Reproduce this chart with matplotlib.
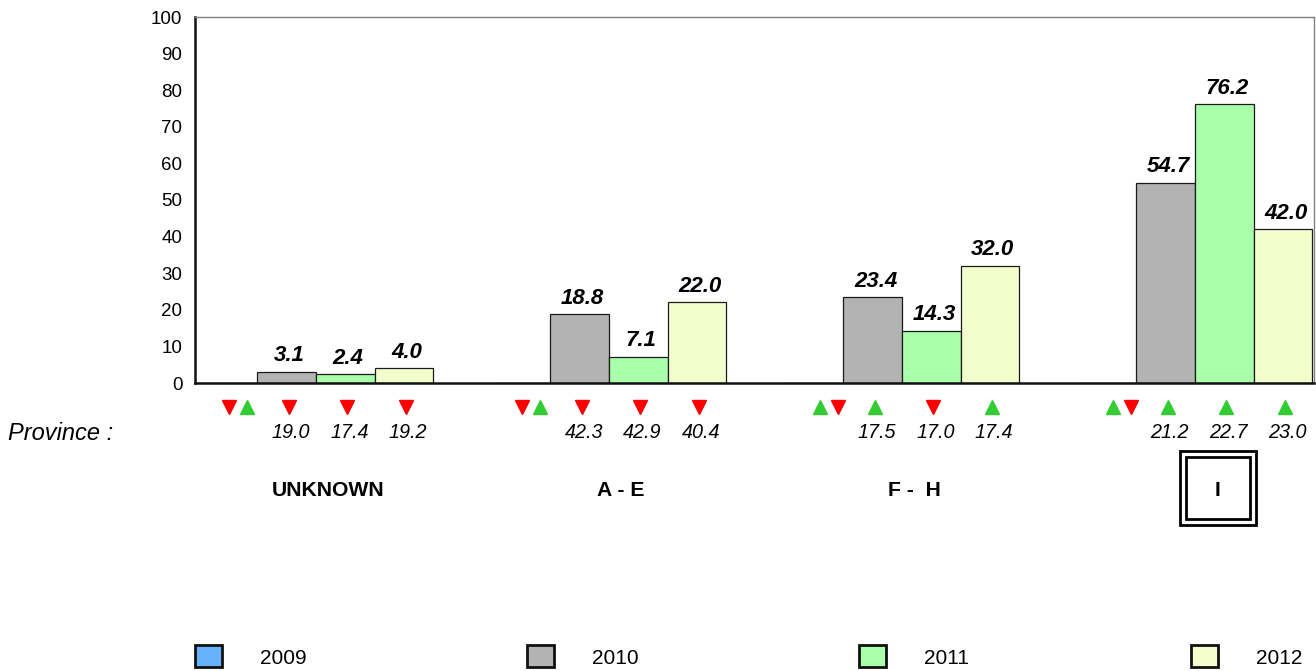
import matplotlib
matplotlib.use("Agg")
import matplotlib.pyplot as plt
from matplotlib.patches import Rectangle
from matplotlib.transforms import blended_transform_factory
import numpy as np

plt.rcParams['font.family'] = ['Liberation Sans', 'DejaVu Sans']

# ---- data ----
groups = ["UNKNOWN", "A - E", "F -  H", "I"]
years = ["2009", "2010", "2011", "2012"]
v2009 = [0.0, 0.0, 0.0, 0.0]
v2010 = [3.1, 18.8, 23.4, 54.7]
v2011 = [2.4, 7.1, 14.3, 76.2]
v2012 = [4.0, 22.0, 32.0, 42.0]

# change indicators (direction: +1 up / -1 down) and values shown under each bar
pair_dirs = [(-1, 1), (-1, 1), (1, -1), (1, -1)]
dir2010 = [-1, -1, 1, 1]
dir2011 = [-1, -1, -1, 1]
dir2012 = [-1, -1, 1, 1]
chg2010 = [19.0, 42.3, 17.5, 21.2]
chg2011 = [17.4, 42.9, 17.0, 22.7]
chg2012 = [19.2, 40.4, 17.4, 23.0]

colors = ["#66B2FF", "#B3B3B3", "#AAFFAA", "#F2FFCC"]
UP_COL, DOWN_COL = "#33CC33", "#FF0000"

W, H = 1316, 671
fig = plt.figure(figsize=(W / 100, H / 100), dpi=100)

def fx(px):
    return px / W

def fy(py):
    return 1 - py / H

ax = fig.add_axes([fx(195), fy(383), fx(1314) - fx(195), fy(17) - fy(383)])

series = [v2009, v2010, v2011, v2012]
bw = 0.2
x = np.arange(len(groups))
for j, vals in enumerate(series):
    xs = x + (j - 1.5) * bw
    bars = ax.bar(xs, vals, width=bw, color=colors[j], edgecolor="#1a1a1a",
                  linewidth=0.9, zorder=2)
    if j > 0:
        for b, v in zip(bars, vals):
            ax.annotate(f"{v:.1f}", (b.get_x() + b.get_width() / 2, v),
                        xytext=(2, 4), textcoords="offset points",
                        ha="center", va="bottom", fontsize=16,
                        fontweight="bold", fontstyle="italic")

ax.set_ylim(0, 100)
ax.set_yticks(np.arange(0, 101, 10))
ax.set_xlim(-0.413, 3.406)
ax.set_xticks([])
ax.tick_params(axis="y", length=0, pad=9, labelsize=13.5)
for s in ["left", "bottom"]:
    ax.spines[s].set_linewidth(1.8)
    ax.spines[s].set_color("#111111")
for s in ["top", "right"]:
    ax.spines[s].set_linewidth(1.0)
    ax.spines[s].set_color("#808080")

# rows under the plot: x in data, y in figure fraction
tr = blended_transform_factory(ax.transData, fig.transFigure)
tri_y = fy(407)
num_y = fy(433)
lab_y = fy(490)
px_unit = (1314 - 195) / (3.406 + 0.413)

def tri(xv, d):
    ax.plot([xv], [tri_y], marker="^" if d > 0 else "v",
            color=UP_COL if d > 0 else DOWN_COL, markersize=9.5,
            linestyle="none", transform=tr, clip_on=False)

for i in range(len(groups)):
    c0 = x[i] - 1.5 * bw
    first, second = pair_dirs[i]
    off = 1 if first < 0 else 6
    tri(c0 + off / px_unit, first)
    tri(c0 + (off + 18) / px_unit, second)
    for j, (dirs, chg) in enumerate([(dir2010, chg2010), (dir2011, chg2011),
                                     (dir2012, chg2012)], start=1):
        cx = x[i] + (j - 1.5) * bw
        tri(cx + 2 / px_unit, dirs[i])
        ax.text(cx + 4 / px_unit, num_y, f"{chg[i]:.1f}", transform=tr,
                ha="center", va="center", fontsize=14.2, fontstyle="italic",
                clip_on=False)

fig.text(fx(8), num_y, "Province :", ha="left", va="center", fontsize=17,
         fontstyle="italic")

for i, g in enumerate(groups):
    gx = x[i] + (12 if i < 3 else 23) / px_unit
    ax.text(gx, lab_y, g, transform=tr, ha="center", va="center",
            fontsize=15.2, fontweight="bold", clip_on=False)

# double frame around the highlighted group
hx = x[3] + 23 / px_unit
for half_w, half_h, lw in [(38, 37, 2.0), (32, 31, 2.0)]:
    r = Rectangle((hx - half_w / px_unit, fy(488 + half_h)),
                  2 * half_w / px_unit, fy(488 - half_h) - fy(488 + half_h),
                  transform=tr, fill=False, edgecolor="black", linewidth=lw,
                  clip_on=False)
    fig.add_artist(r)

# legend row
for k, (yr, col) in enumerate(zip(years, colors)):
    sx = 195 + k * 332
    fig.add_artist(Rectangle((fx(sx), fy(667)), fx(27), fy(645) - fy(667),
                             transform=fig.transFigure, facecolor=col,
                             edgecolor="#111111", linewidth=2.0))
    fig.text(fx(sx + 65), fy(659), yr, ha="left", va="center", fontsize=15)

fig.savefig("out.png", dpi=100)
